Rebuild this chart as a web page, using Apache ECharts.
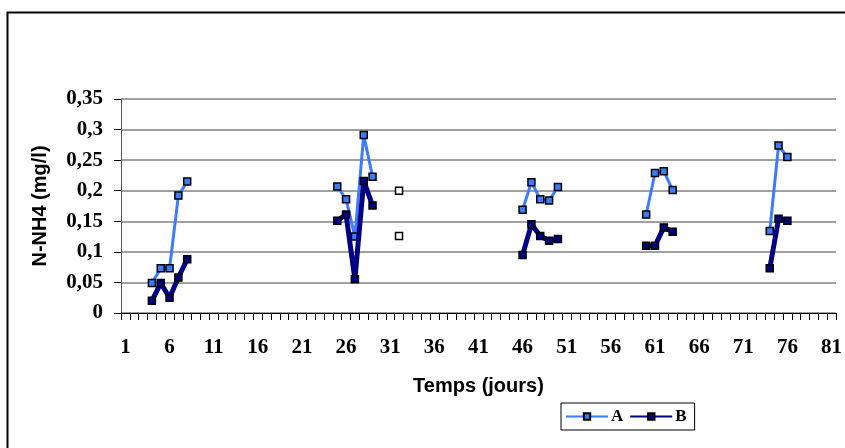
<!DOCTYPE html>
<html>
<head>
<meta charset="utf-8">
<script src="https://cdn.jsdelivr.net/npm/echarts@6/dist/echarts.min.js"></script>
<style>
html,body{margin:0;padding:0;background:#fff;}
#chart{width:845px;height:448px;}
</style>
</head>
<body>
<div id="chart"></div>
<script>
// Categories (days) 1..81
const categories = [1,2,3,4,5,6,7,8,9,10,11,12,13,14,15,16,17,18,19,20,21,22,23,24,25,26,27,28,29,30,31,32,33,34,35,36,37,38,39,40,41,42,43,44,45,46,47,48,49,50,51,52,53,54,55,56,57,58,59,60,61,62,63,64,65,66,67,68,69,70,71,72,73,74,75,76,77,78,79,80,81];
const yTicks = [0, 0.05, 0.1, 0.15, 0.2, 0.25, 0.3, 0.35];

// Measurement days and values
const daysA   = [4, 5, 6, 7, 8, 25, 26, 27, 28, 29, 46, 47, 48, 49, 50, 60, 61, 62, 63, 74, 75, 76];
const valuesA = [0.049, 0.073, 0.073, 0.192, 0.215, 0.207, 0.186, 0.125, 0.291, 0.223, 0.169, 0.214, 0.186, 0.184, 0.206, 0.161, 0.229, 0.232, 0.201, 0.134, 0.274, 0.255];
const daysB   = [4, 5, 6, 7, 8, 25, 26, 27, 28, 29, 46, 47, 48, 49, 50, 60, 61, 62, 63, 74, 75, 76];
const valuesB = [0.020, 0.049, 0.025, 0.058, 0.088, 0.151, 0.161, 0.055, 0.216, 0.176, 0.095, 0.145, 0.126, 0.118, 0.121, 0.110, 0.110, 0.140, 0.133, 0.073, 0.154, 0.151];
// Isolated points (white markers)
const isolatedDay = 32;
const isolatedA = 0.200;
const isolatedB = 0.126;

function build(days, vals, isoVal) {
  const arr = categories.map(() => null);
  days.forEach((d, i) => { arr[categories.indexOf(d)] = vals[i]; });
  arr[categories.indexOf(isolatedDay)] = { value: isoVal, itemStyle: { color: '#ffffff' } };
  return arr;
}

const colorA = '#3d7bff';
const colorB = '#000080';

const chart = echarts.init(document.getElementById('chart'), null, { renderer: 'canvas' });
chart.setOption({
  animation: false,
  backgroundColor: '#fff',
  graphic: [{
    type: 'rect', silent: true, z: -1,
    shape: { x: 7.5, y: 12.5, width: 900, height: 500 },
    style: { fill: 'none', stroke: '#000', lineWidth: 2 }
  }],
  grid: { left: 121, right: 4, top: 99, bottom: 135 },
  legend: {
    left: 561, top: 403,
    data: ['A', 'B'],
    itemWidth: 42, itemHeight: 8, itemGap: 6,
    padding: [5, 8, 5, 4],
    borderColor: '#000', borderWidth: 1,
    textStyle: { fontFamily: 'Liberation Serif', fontWeight: 'bold', fontSize: 17, color: '#000', padding: [0,0,0,-2] }
  },
  xAxis: {
    type: 'category',
    data: categories,
    boundaryGap: true,
    name: 'Temps (jours)',
    nameLocation: 'middle',
    nameGap: 63,
    nameTextStyle: { fontFamily: 'Liberation Sans', fontWeight: 'bold', fontSize: 20, color: '#000' },
    axisLine: { lineStyle: { color: '#000', width: 1 } },
    axisTick: { show: true, interval: 0, length: 7, alignWithLabel: false, lineStyle: { color: '#000' } },
    axisLabel: { interval: 4, margin: 24, fontFamily: 'Liberation Serif', fontWeight: 'bold', fontSize: 21, color: '#000' },
    splitLine: { show: false }
  },
  yAxis: {
    type: 'value',
    min: 0, max: 0.35, interval: 0.05,
    name: 'N-NH4 (mg/l)',
    nameLocation: 'middle',
    nameGap: 71,
    nameRotate: 90,
    nameTextStyle: { fontFamily: 'Liberation Sans', fontWeight: 'bold', fontSize: 20, color: '#000' },
    axisLine: { show: true, lineStyle: { color: '#555', width: 1 } },
    axisTick: { show: true, length: 7, lineStyle: { color: '#000' } },
    axisLabel: {
      margin: 18, fontFamily: 'Liberation Serif', fontWeight: 'bold', fontSize: 21, color: '#000',
      formatter: v => String(yTicks.find(t => Math.abs(t - v) < 1e-9) ?? v).replace('.', ',')
    },
    splitLine: { show: true, lineStyle: { color: '#808080', width: 1.5 } }
  },
  series: [
    {
      name: 'A', type: 'line', data: build(daysA, valuesA, isolatedA),
      connectNulls: false, showAllSymbol: true, symbol: 'rect', symbolSize: 7,
      lineStyle: { color: colorA, width: 3 },
      itemStyle: { color: colorA, borderColor: '#000', borderWidth: 1.5 },
      z: 3
    },
    {
      name: 'B', type: 'line', data: build(daysB, valuesB, isolatedB),
      connectNulls: false, showAllSymbol: true, symbol: 'rect', symbolSize: 7,
      lineStyle: { color: colorB, width: 5 },
      itemStyle: { color: colorB, borderColor: '#000', borderWidth: 1.5 },
      z: 4
    }
  ]
});
</script>
</body>
</html>
